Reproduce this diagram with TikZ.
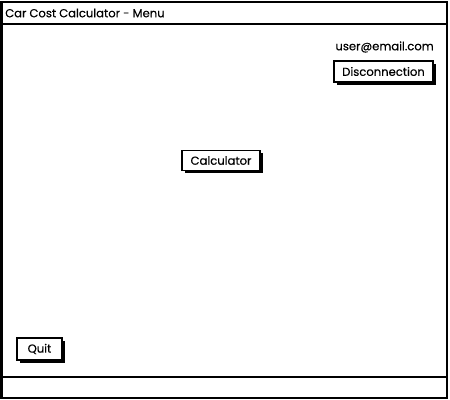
\documentclass[tikz,border=0pt]{standalone}
\usepackage{fontspec}
\setmainfont{Poppins}
\usetikzlibrary{shadows, positioning}

\tikzset{
  button/.style={draw, line width=1.1, fill=white, inner sep=0pt,
    drop shadow={shadow xshift=2.2pt, shadow yshift=-2.2pt, fill=black, opacity=1}},
  label/.style={inner sep=0pt, font=\fontsize{8.7}{10}\selectfont\addfontfeatures{FakeBold=0.3}}
}

\begin{document}
\begin{tikzpicture}[x=0.75pt,y=0.75pt,yscale=-1,xscale=1]
\path [use as bounding box] (0,0) rectangle (450,400);

%Shape: Window frame
\draw [line width=1.5] (1.5,1.5) rectangle (446.5,397.5) ;
%Straight Lines: title bar
\draw [line width=1.5] (1.5,24) -- (446.5,24) ;
%Straight Lines: status bar
\draw [line width=1.5] (1.5,377) -- (446.5,377) ;

%Text
\node [label, anchor=west] (title) at (5,13) {Car Cost Calculator - Menu};
\node [label, anchor=east] (user) at (434,47) {user@email.com};

%Buttons
\node [button, label, minimum width=74.25pt, minimum height=15.75pt] (disconnect) at (383.5,71.5) {Disconnection};
\node [button, label, minimum width=58.5pt, minimum height=15pt] (calc) at (221,160.5) {Calculator};
\node [button, label, minimum width=33.75pt, minimum height=16.5pt] (quit) at (39.5,349) {Quit};

\end{tikzpicture}
\end{document}
